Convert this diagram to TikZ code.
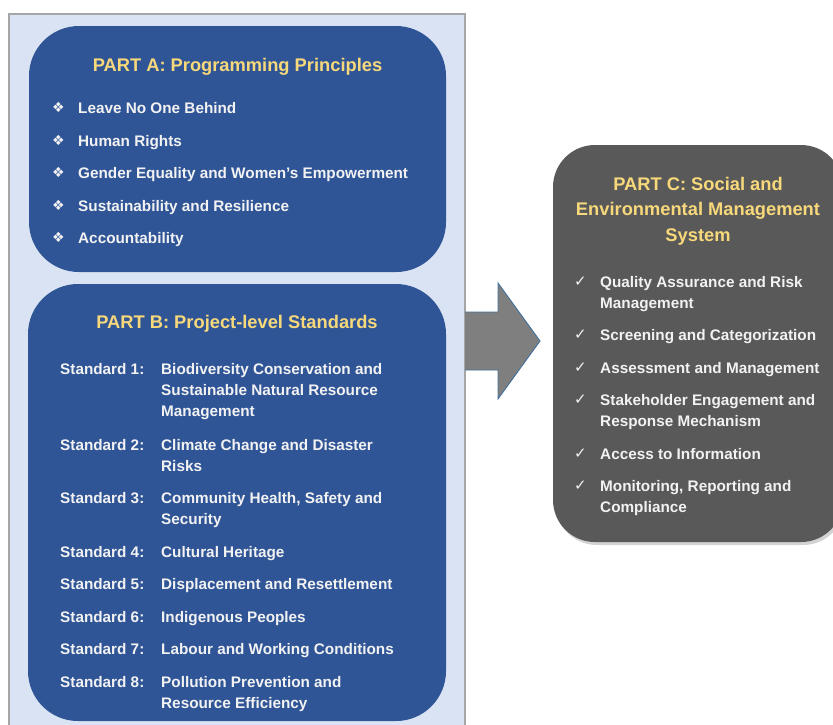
\documentclass[tikz,border=0pt]{standalone}
\usepackage{fontspec}
\setmainfont{Liberation Sans}
\newfontfamily\symfont{DejaVu Sans}
\usetikzlibrary{shadows}

\definecolor{panelblue}{HTML}{DAE3F3}
\definecolor{panelgray}{HTML}{A6A6A6}
\definecolor{boxblue}{HTML}{2F5597}
\definecolor{boxgray}{HTML}{595959}
\definecolor{arrowgray}{HTML}{7F7F7F}
\definecolor{arrowedge}{HTML}{41719C}
\definecolor{titlegold}{HTML}{F7D87A}
\definecolor{itemwhite}{HTML}{F2F2F2}

\tikzset{
  panel/.style={fill=panelblue, draw=panelgray, line width=1.5pt},
  bluebox/.style={fill=boxblue, rounded corners=50pt, inner sep=0pt},
  graybox/.style={fill=boxgray, rounded corners=42pt, inner sep=0pt,
    drop shadow={shadow xshift=2pt, shadow yshift=-3pt, opacity=0.35}},
  blockarrow/.style={fill=arrowgray, draw=arrowedge, line width=0.9pt, line join=miter},
  % multi-line texts are anchored at the baseline of their last line
  title/.style={text=titlegold, font=\bfseries\fontsize{18.3}{25.8}\selectfont,
    align=center, inner sep=0pt, anchor=base},
  item/.style={text=itemwhite, font=\bfseries\fontsize{15.3}{21.3}\selectfont,
    anchor=base west, inner sep=0pt, align=left},
  glyph/.style={text=itemwhite, font=\symfont\fontsize{15}{17}\selectfont,
    anchor=base west, inner sep=0pt},
}

\begin{document}
\begin{tikzpicture}[x=1pt, y=-1pt]
\useasboundingbox (0,0) rectangle (833,724);
\clip (0,0) rectangle (833,724);

% background panel holding parts A and B
\draw[panel] (9,14) rectangle (465,740);

% Part A
\node[bluebox, minimum width=417pt, minimum height=246pt] (partA) at (237.5,149) {};
\node[title] (titleA) at (237.5,71) {PART A: Programming Principles};
\foreach \y/\txt [count=\i] in {113/Leave No One Behind, 146/Human Rights,
    178/Gender Equality and Women’s Empowerment, 211/Sustainability and Resilience,
    243/Accountability} {
  \node[glyph, font=\symfont\fontsize{14}{16}\selectfont] (bulletA\i) at (52,\y-0.5) {❖};
  \node[item] (itemA\i) at (78,\y) {\txt};
}

% Part B
\node[bluebox, minimum width=418pt, minimum height=437pt] (partB) at (237,502.5) {};
\node[title] (titleB) at (237,328) {PART B: Project-level Standards};
\foreach \y/\ylast/\txt [count=\i] in {
    374/416.6/{Biodiversity Conservation and\\Sustainable Natural Resource\\Management},
    450/471.3/{Climate Change and Disaster\\Risks},
    503/524.3/{Community Health, Safety and\\Security},
    557/557/{Cultural Heritage},
    589/589/{Displacement and Resettlement},
    622/622/{Indigenous Peoples},
    654/654/{Labour and Working Conditions},
    687/708.3/{Pollution Prevention and\\Resource Efficiency}} {
  \node[item] (stdlabel\i) at (60,\y) {Standard \i:};
  \node[item] (stdtext\i) at (161,\ylast) {\txt};
}

% Part C
\node[graybox, minimum width=290pt, minimum height=397pt] (partC) at (698,343.5) {};
\node[title] (titleC) at (698,241.6) {PART C: Social and\\Environmental Management\\System};
\foreach \y/\ylast/\txt [count=\i] in {
    287/308.3/{Quality Assurance and Risk\\Management},
    340/340/{Screening and Categorization},
    373/373/{Assessment and Management},
    405/426.3/{Stakeholder Engagement and\\Response Mechanism},
    459/459/{Access to Information},
    491/512.3/{Monitoring, Reporting and\\Compliance}} {
  \node[glyph] (check\i) at (574,\y-1) {✓};
  \node[item] (itemC\i) at (600,\ylast) {\txt};
}

% block arrow from the panel towards Part C
\draw[blockarrow] (465,312) -- (498,312) -- (498,283) -- (540,341)
  -- (498,399) -- (498,370) -- (465,370);
\end{tikzpicture}
\end{document}
